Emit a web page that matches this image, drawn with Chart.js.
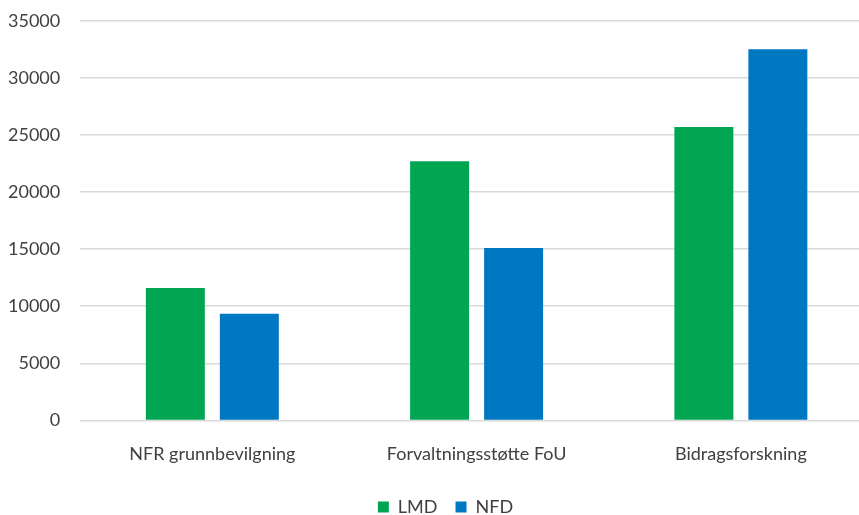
<!DOCTYPE html>
<html lang="no">
<head>
    <meta charset="UTF-8">
    <title>LMD og NFD</title>
    <script src="https://cdn.jsdelivr.net/npm/chart.js"></script>
    <style>
        html, body { margin: 0; padding: 0; background: #fff; overflow: hidden; }
        .ramme { position: absolute; left: -12px; top: -10px; width: 914px; height: 536px; }
    </style>
</head>
<body>
    <div class="ramme">
        <canvas id="stolper"></canvas>
    </div>

    <script>
        const kategorier = ['NFR grunnbevilgning', 'Forvaltningsstøtte FoU', 'Bidragsforskning'];
        const lmd = [11600, 22700, 25700];
        const nfd = [9350, 15100, 32500];
        const yMax = 35000;
        const ySteg = 5000;

        // legenden står litt til høyre for midten i originalen
        const flyttLegende = {
            id: 'flyttLegende',
            afterLayout(chart) {
                chart.legend.left += 15;
                chart.legend.right += 15;
            }
        };

        var ctx = document.getElementById('stolper').getContext('2d');
        var stolper = new Chart(ctx, {
            type: 'bar',
            data: {
                labels: kategorier,
                datasets: [{
                    label: 'LMD',
                    data: lmd,
                    backgroundColor: '#00a651'
                }, {
                    label: 'NFD',
                    data: nfd,
                    backgroundColor: '#0078c1'
                }]
            },
            options: {
                responsive: true,
                maintainAspectRatio: false,
                animation: false,
                categoryPercentage: 0.56,
                barPercentage: 0.797,
                layout: {
                    padding: { left: 0, right: 29, top: 2, bottom: 0 }
                },
                scales: {
                    x: {
                        grid: { display: false },
                        border: { display: false },
                        ticks: {
                            color: '#404040',
                            padding: 15,
                            font: { family: 'Lato', size: 18 }
                        }
                    },
                    y: {
                        min: 0,
                        max: yMax,
                        border: { display: false },
                        grid: {
                            color: '#d9d9d9',
                            lineWidth: 1.5,
                            drawTicks: false
                        },
                        ticks: {
                            stepSize: ySteg,
                            color: '#404040',
                            padding: 20,
                            font: { family: 'Lato', size: 18 },
                            callback: (v) => String(v)
                        }
                    }
                },
                plugins: {
                    tooltip: { enabled: false },
                    legend: {
                        position: 'bottom',
                        labels: {
                            boxWidth: 11,
                            boxHeight: 11,
                            padding: 18,
                            color: '#404040',
                            font: { family: 'Lato', size: 18 }
                        }
                    }
                }
            },
            plugins: [flyttLegende]
        });
    </script>
</body>
</html>
